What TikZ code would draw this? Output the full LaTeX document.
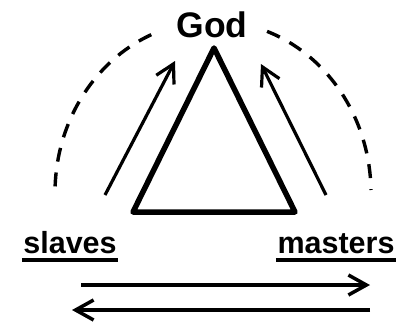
\documentclass[tikz,border=0pt]{standalone}
\usepackage{fontspec}
\setmainfont{Liberation Sans}
\usetikzlibrary{arrows.meta}

\begin{document}
\begin{tikzpicture}[x=1pt,y=1pt,>={Straight Barb[length=18pt,width=20pt]}, line width=3.2pt]
    \tikzstyle{word} = [inner sep=0pt, anchor=base, font=\bfseries\fontsize{30.5}{36}\selectfont]
    \tikzstyle{halo} = [dash pattern=on 14pt off 11pt, line width=3.4pt]
    \useasboundingbox (0,0) rectangle (403,325);

    % Corners of the triangle
    \coordinate (apex) at (214,277);
    \coordinate (baseL) at (133,113);
    \coordinate (baseR) at (295,113);
    \draw[line width=5.5pt, line join=round] (apex) -- (baseL) -- (baseR) -- cycle;

    % Labels
    \node[word, font=\bfseries\fontsize{35.5}{40}\selectfont] (god) at (212,288) {God};
    \node[word] (slaves) at (70,72) {slaves};
    \node[word] (masters) at (336,72) {masters};
    \draw[line width=3.2pt] ([yshift=-7pt]slaves.base west) -- ([yshift=-7pt]slaves.base east);
    \draw[line width=3.2pt] ([yshift=-7pt]masters.base west) -- ([yshift=-7pt]masters.base east);

    % Dashed arc round the triangle (broken under the label)
    \coordinate (hub) at (213,132);
    \draw[halo] (hub) ++(113:158 and 172) arc[start angle=113, end angle=180, x radius=158, y radius=172];
    \draw[halo] (hub) ++(70:158 and 172) arc[start angle=70, end angle=1, x radius=158, y radius=172];

    % Rising arrows
    \coordinate (slavesfoot) at (105,130);
    \coordinate (slavestip) at (175,264);
    \coordinate (mastersfoot) at (326,130);
    \coordinate (masterstip) at (261,261);
    \draw[->] (slavesfoot) -- (slavestip);
    \draw[->] (mastersfoot) -- (masterstip);

    % Exchange arrows
    \coordinate (topL) at (81,40);
    \coordinate (topR) at (370,40);
    \coordinate (lowL) at (72,15);
    \coordinate (lowR) at (370,15);
    \draw[->, line width=3.5pt] (topL) -- (topR);
    \draw[->, line width=3.5pt] (lowR) -- (lowL);
\end{tikzpicture}
\end{document}
